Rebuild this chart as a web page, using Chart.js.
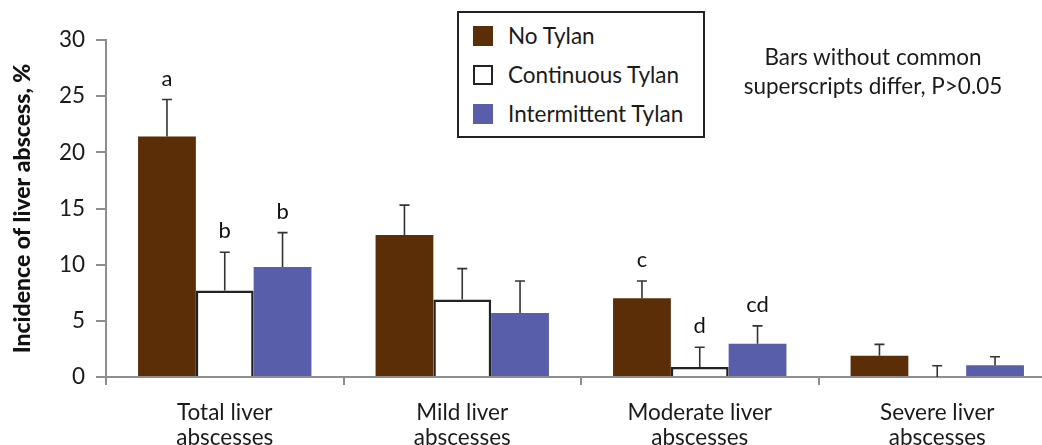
<!DOCTYPE html>
<html>
<head>
<meta charset="utf-8">
<script src="https://cdn.jsdelivr.net/npm/chart.js@4.4.1/dist/chart.umd.min.js"></script>
<style>
  html, body { margin: 0; padding: 0; background: #fff; overflow: hidden; }
  #wrap { position: relative; width: 1070px; height: 445px; font-family: Lato, sans-serif; color: #1a1a1a; }
  #legend { position: absolute; left: 457px; top: 11px; width: 244px; height: 123px; border: 2px solid #222; background: #fff; }
  #legend .row { position: absolute; left: 0; height: 24px; line-height: 24px; font-size: 22.5px; white-space: nowrap; }
  #legend .sw { position: absolute; left: 14px; top: 2px; width: 20px; height: 20px; box-sizing: border-box; }
  #legend .txt { position: absolute; left: 49px; top: 0; }
  #note { position: absolute; left: 722px; top: 42px; width: 302px; text-align: center; font-size: 22.5px; line-height: 29px; }
</style>
</head>
<body>
<div id="wrap">
  <canvas id="chart0" width="1070" height="445"></canvas>
  <div id="legend"></div>
  <div id="note">Bars without common<br>superscripts differ, P&gt;0.05</div>
</div>
<script>
const categories = [
  ['Total liver', 'abscesses'],
  ['Mild liver', 'abscesses'],
  ['Moderate liver', 'abscesses'],
  ['Severe liver', 'abscesses']
];
const seriesNames = ['No Tylan', 'Continuous Tylan', 'Intermittent Tylan'];

const noTylan = [21.4, 12.65, 7.0, 1.9];
const continuousTylan = [7.7, 6.9, 0.9, 0];
const intermittentTylan = [9.8, 5.7, 2.95, 1.05];

// upper error (SE) above each bar
const noTylanErr = [3.3, 2.65, 1.55, 1.0];
const continuousErr = [3.4, 2.75, 1.75, 1.0];
const intermittentErr = [3.05, 2.85, 1.6, 0.75];

// superscript letters above bars
const noTylanSup = ['a', '', 'c', ''];
const continuousSup = ['b', '', 'd', ''];
const intermittentSup = ['b', '', 'cd', ''];

const yTicks = [0, 5, 10, 15, 20, 25, 30];

const brown = '#5b2e07';
const blue = '#585ea9';
const axisGrey = '#8e8e8e';
const FONT = 'Lato, sans-serif';

const errorBars = {
  id: 'errorBars',
  afterDatasetsDraw(chart) {
    const ctx = chart.ctx;
    const y = chart.scales.y;
    ctx.save();
    chart.data.datasets.forEach((ds, i) => {
      const meta = chart.getDatasetMeta(i);
      meta.data.forEach((bar, j) => {
        const yBase = y.getPixelForValue(ds.data[j]);
        const yTop = y.getPixelForValue(ds.data[j] + ds.errors[j]);
        ctx.strokeStyle = '#333';
        ctx.lineWidth = 1.6;
        ctx.beginPath();
        ctx.moveTo(bar.x, yBase);
        ctx.lineTo(bar.x, yTop);
        ctx.moveTo(bar.x - 5, yTop);
        ctx.lineTo(bar.x + 5, yTop);
        ctx.stroke();
        if (ds.sup[j]) {
          ctx.fillStyle = '#111';
          ctx.font = '22px ' + FONT;
          ctx.textAlign = 'center';
          ctx.textBaseline = 'middle';
          ctx.fillText(ds.sup[j], bar.x, yTop - 21);
        }
      });
    });
    ctx.restore();
  }
};

const chart0 = document.getElementById('chart0');
const myChart0 = new Chart(chart0, {
  type: 'bar',
  data: {
    labels: categories,
    datasets: [{
      label: seriesNames[0],
      data: noTylan,
      errors: noTylanErr,
      sup: noTylanSup,
      backgroundColor: brown,
      borderWidth: 0
    }, {
      label: seriesNames[1],
      data: continuousTylan,
      errors: continuousErr,
      sup: continuousSup,
      backgroundColor: '#ffffff',
      borderColor: '#222',
      borderWidth: 2.5
    }, {
      label: seriesNames[2],
      data: intermittentTylan,
      errors: intermittentErr,
      sup: intermittentSup,
      backgroundColor: blue,
      borderWidth: 0
    }]
  },
  options: {
    responsive: false,
    animation: false,
    layout: { padding: { top: 40, right: 14, left: 0, bottom: 0 } },
    categoryPercentage: 0.73,
    barPercentage: 1.0,
    plugins: {
      legend: { display: false },
      tooltip: { enabled: false }
    },
    scales: {
      x: {
        grid: { display: true, drawOnChartArea: false, offset: true, tickLength: 8, color: axisGrey, lineWidth: 2 },
        border: { color: axisGrey, width: 2 },
        ticks: { color: '#1a1a1a', font: { family: FONT, size: 22.5, lineHeight: 1.12 }, padding: 15, maxRotation: 0 },
        afterFit: (s) => { s.height = 68; }
      },
      y: {
        min: 0,
        max: 30,
        afterBuildTicks: (s) => { s.ticks = yTicks.map(v => ({ value: v })); },
        grid: { display: true, drawOnChartArea: false, tickLength: 10, color: axisGrey, lineWidth: 2 },
        border: { color: axisGrey, width: 2 },
        ticks: { color: '#1a1a1a', font: { family: FONT, size: 22.5 }, padding: 11 },
        title: {
          display: true,
          text: 'Incidence of liver abscess, %',
          color: '#111',
          font: { family: FONT, size: 23, weight: 900 },
          padding: { top: 9, bottom: 0 }
        },
        afterFit: (s) => { s.width = 106; }
      }
    }
  },
  plugins: [errorBars]
});

// legend built from the datasets
const legend = document.getElementById('legend');
const rowTops = [11, 50, 89];
myChart0.data.datasets.forEach((ds, i) => {
  const row = document.createElement('div');
  row.className = 'row';
  row.style.top = rowTops[i] + 'px';
  const sw = document.createElement('span');
  sw.className = 'sw';
  sw.style.background = ds.backgroundColor;
  if (ds.borderWidth) sw.style.border = '2.5px solid ' + ds.borderColor;
  const txt = document.createElement('span');
  txt.className = 'txt';
  txt.textContent = ds.label;
  row.appendChild(sw);
  row.appendChild(txt);
  legend.appendChild(row);
});
</script>
</body>
</html>
